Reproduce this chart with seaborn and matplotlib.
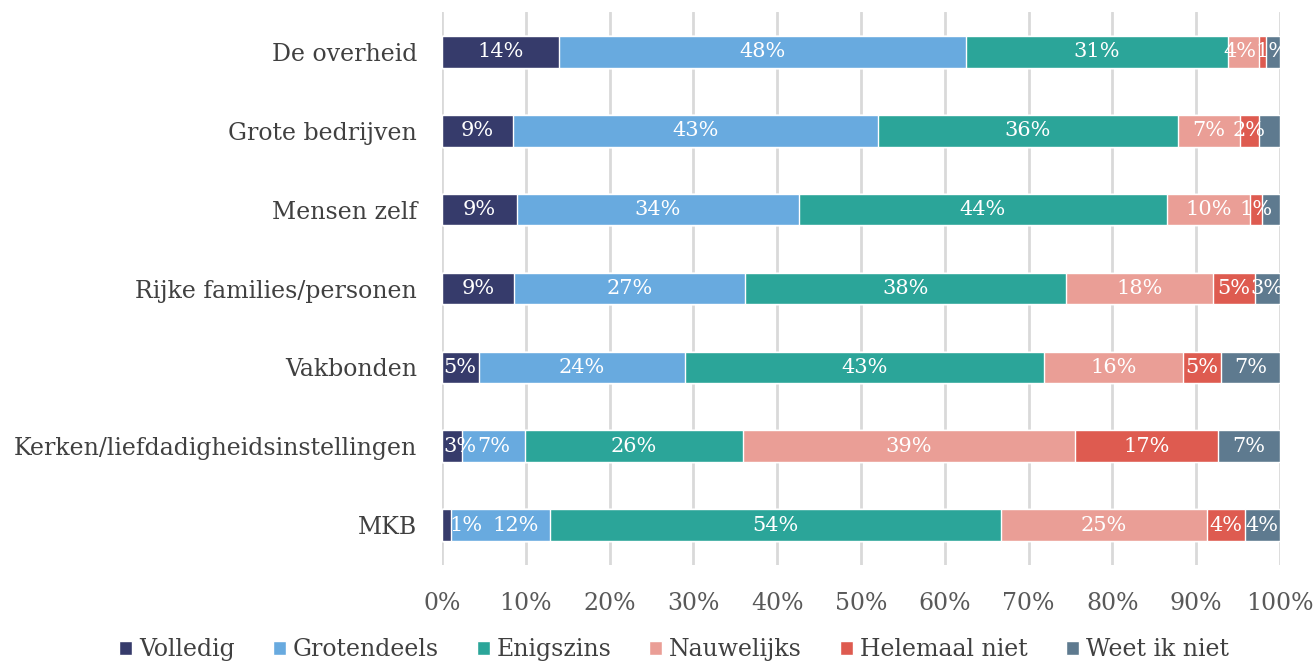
import numpy as np
import pandas as pd
import matplotlib.pyplot as plt
import seaborn as sns
from matplotlib.patches import Patch

categories = ['De overheid', 'Grote bedrijven', 'Mensen zelf', 'Rijke families/personen',
              'Vakbonden', 'Kerken/liefdadigheidsinstellingen', 'MKB']
series = ['Volledig', 'Grotendeels', 'Enigszins', 'Nauwelijks', 'Helemaal niet', 'Weet ik niet']

volledig = [14.0, 8.5, 8.9, 8.6, 4.4, 2.4, 1.1]
grotendeels = [48.5, 43.5, 33.7, 27.6, 24.6, 7.5, 11.8]
enigszins = [31.3, 35.8, 43.9, 38.3, 42.8, 26.0, 53.8]
nauwelijks = [3.7, 7.4, 9.9, 17.5, 16.6, 39.6, 24.6]
helemaal_niet = [0.8, 2.3, 1.5, 5.0, 4.6, 17.1, 4.5]
weet_niet = [1.7, 2.5, 2.1, 3.0, 7.0, 7.4, 4.2]

labels = [
    ['14%', '48%', '31%', '4%', '', '1%'],
    ['9%', '43%', '36%', '7%', '2%', ''],
    ['9%', '34%', '44%', '10%', '1%', ''],
    ['9%', '27%', '38%', '18%', '5%', '3%'],
    ['5%', '24%', '43%', '16%', '5%', '7%'],
    ['3%', '7%', '26%', '39%', '17%', '7%'],
    ['1%', '12%', '54%', '25%', '4%', '4%'],
]

colors = ['#363B6B', '#68AADF', '#2BA599', '#EA9E96', '#DE5B50', '#5E7A8F']

sns.set_style('white')
plt.rcParams['font.family'] = ['DejaVu Serif']

vals = np.array([volledig, grotendeels, enigszins, nauwelijks, helemaal_niet, weet_niet]).T
vals = vals / vals.sum(axis=1, keepdims=True) * 100
cum = np.cumsum(vals, axis=1)

fig = plt.figure(figsize=(13.16, 6.64), dpi=100)
ax = fig.add_axes([0.3359, 0.1498, 0.6367, 0.8314])

# stacked bars: draw cumulative totals from the largest down
for i in range(len(series) - 1, -1, -1):
    df = pd.DataFrame({'cat': categories, 'val': cum[:, i]})
    sns.barplot(data=df, x='val', y='cat', orient='h', color=colors[i],
                saturation=1, width=0.4, ax=ax, zorder=2)

for r in range(len(categories)):
    for i in range(len(series)):
        txt = labels[r][i]
        if not txt:
            continue
        xc = cum[r, i] - vals[r, i] / 2
        ha = 'center'
        if i == 0 and vals[r, i] < 5:
            # narrow first segment: label starts at the bar base
            xc, ha = (0.9 if vals[r, i] < 2 else 0.1), 'left'
        elif i == 1 and vals[r, 0] < 2:
            xc += 1.8  # excel pushes it right of the tiny first label
        elif i == 3 and vals[r, i] < 5:
            xc -= 0.4
        elif i == 5 and vals[r, i] < 2:
            xc -= 0.1
        ax.text(xc, r, txt, ha=ha, va='center', color='white',
                fontsize=15, zorder=3)

ax.set_xlim(0, 100)
ax.set_ylim(6.5, -0.5)
ax.set_xticks(np.arange(0, 101, 10))
ax.set_xticklabels([f'{t}%' for t in range(0, 101, 10)], fontsize=17, color='#595959')
ax.tick_params(axis='x', pad=20, length=0)
ax.tick_params(axis='y', labelsize=17, labelcolor='#404040', length=0, pad=18)
ax.set_xlabel('')
ax.set_ylabel('')
ax.grid(axis='x', color='#D9D9D9', linewidth=2, zorder=0)
ax.set_axisbelow(True)
for s in ax.spines.values():
    s.set_visible(False)

handles = [Patch(facecolor=c, label=s) for c, s in zip(colors, series)]
fig.legend(handles=handles, loc='lower center', bbox_to_anchor=(0.512, -0.028), ncol=6,
           frameon=False, fontsize=17, handlelength=0.55, handleheight=0.55,
           handletextpad=0.3, columnspacing=1.6, labelcolor='#404040')

fig.savefig('out.png', dpi=100)
